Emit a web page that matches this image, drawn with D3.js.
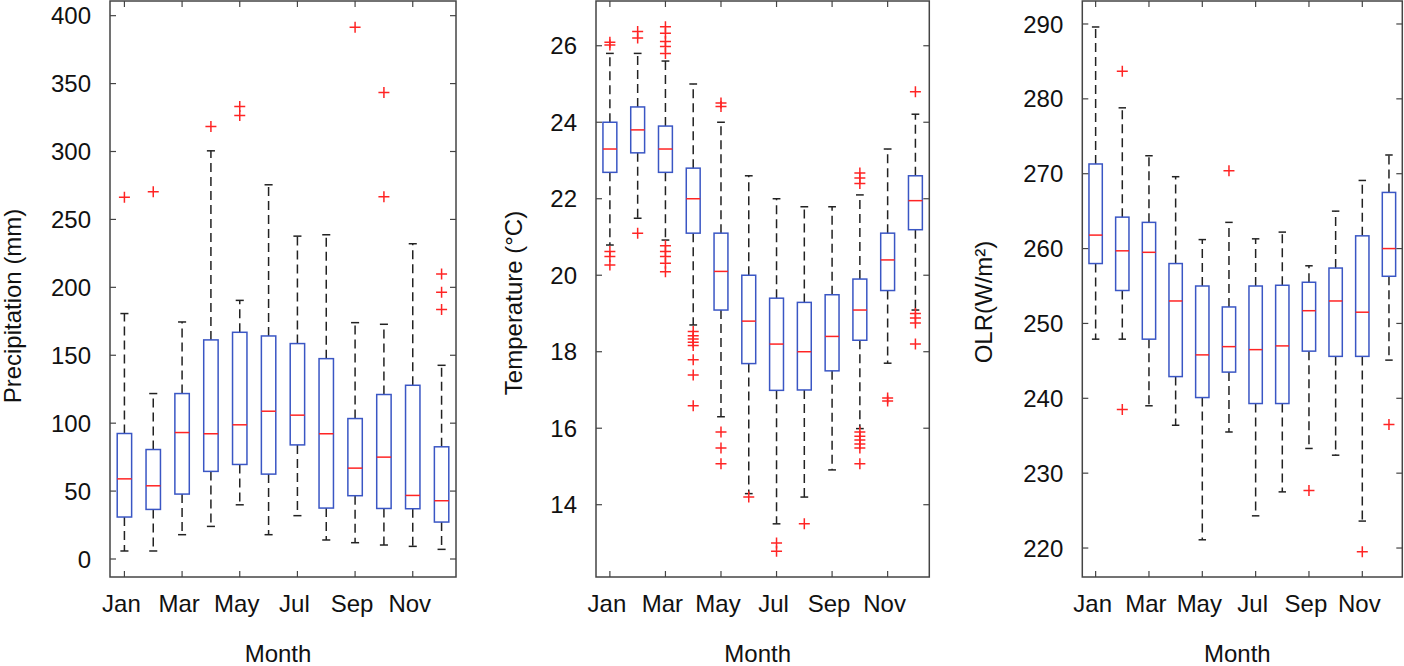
<!DOCTYPE html>
<html>
<head>
<meta charset="utf-8">
<script src="https://cdn.jsdelivr.net/npm/d3@7"></script>
<style>
  body { margin: 0; background: #fff; }
  text { font-family: "Liberation Sans", Arial, Helvetica, sans-serif; fill: #111; }
</style>
</head>
<body>
<svg id="chart" width="1404" height="666"></svg>
<script>
const months = ['Jan', 'Feb', 'Mar', 'Apr', 'May', 'Jun', 'Jul', 'Aug', 'Sep', 'Oct', 'Nov', 'Dec'];
const monthTicks = ['Jan', 'Mar', 'May', 'Jul', 'Sep', 'Nov'];

// precipitation (mm)
const precipLo  = [5.9, 5.9, 17.9, 24.0, 39.9, 17.9, 31.9, 14.0, 12.0, 10.3, 9.3, 7.1];
const precipQ1  = [30.9, 36.5, 47.8, 64.5, 69.6, 62.5, 84.0, 37.5, 46.6, 37.2, 37.0, 27.2];
const precipMed = [59.0, 53.9, 93.1, 92.2, 98.8, 108.8, 105.9, 92.2, 66.9, 75.0, 46.8, 42.9];
const precipQ3  = [92.4, 80.6, 121.8, 161.3, 166.9, 164.2, 158.6, 147.5, 103.4, 121.1, 127.9, 82.6];
const precipHi  = [180.7, 121.8, 174.5, 300.5, 190.4, 275.5, 237.7, 238.7, 174.0, 172.8, 232.1, 142.6];
const precipOut = [[266.4], [270.3], [], [318.4], [333.1, 326.5], [], [], [], [391.4], [343.4, 266.7], [], [209.8, 196.3, 183.6]];
const precipTicks = [0, 50, 100, 150, 200, 250, 300, 350, 400];

// temperature (°C)
const tempLo  = [20.79, 21.49, 20.92, 18.70, 16.30, 14.29, 13.50, 14.20, 14.91, 15.99, 17.70, 19.09];
const tempQ1  = [22.69, 23.20, 22.69, 21.10, 19.09, 17.69, 16.99, 17.00, 17.50, 18.30, 19.60, 21.19];
const tempMed = [23.30, 23.80, 23.30, 22.00, 20.10, 18.80, 18.20, 18.00, 18.40, 19.09, 20.40, 21.95];
const tempQ3  = [24.00, 24.40, 23.90, 22.80, 21.10, 20.00, 19.40, 19.29, 19.49, 19.90, 21.10, 22.60];
const tempHi  = [25.80, 25.80, 25.60, 25.00, 24.00, 22.60, 22.00, 21.79, 21.79, 22.10, 23.30, 24.21];
const tempOut = [
  [26.09, 26.02, 20.62, 20.49, 20.27],
  [26.37, 26.20, 21.10],
  [26.50, 26.33, 26.11, 25.98, 25.80, 20.77, 20.62, 20.49, 20.31, 20.09],
  [18.53, 18.42, 18.33, 18.25, 18.16, 17.79, 17.39, 16.59],
  [24.50, 24.41, 15.90, 15.48, 15.07],
  [14.20],
  [13.00, 12.78],
  [13.50],
  [],
  [22.67, 22.54, 22.40, 15.90, 15.79, 15.69, 15.59, 15.48, 15.07],
  [16.79, 16.71],
  [24.80, 19.00, 18.88, 18.75, 18.20]
];
const tempTicks = [14, 16, 18, 20, 22, 24, 26];

// outgoing longwave radiation (W/m2)
const olrLo  = [247.9, 247.9, 239.0, 236.4, 221.1, 235.5, 224.3, 227.5, 233.3, 232.4, 223.6, 245.1];
const olrQ1  = [258.0, 254.4, 247.9, 242.9, 240.1, 243.5, 239.3, 239.3, 246.3, 245.6, 245.6, 256.3];
const olrMed = [261.8, 259.7, 259.5, 253.0, 245.8, 246.9, 246.5, 247.0, 251.7, 253.0, 251.5, 260.0];
const olrQ3  = [271.3, 264.2, 263.5, 258.0, 255.0, 252.2, 255.0, 255.1, 255.5, 257.4, 261.7, 267.5];
const olrHi  = [289.6, 278.8, 272.4, 269.6, 261.2, 263.5, 261.3, 262.2, 257.7, 265.0, 269.1, 272.5];
const olrOut = [[], [283.7, 238.5], [], [], [], [270.4], [], [], [227.7], [], [219.5], [236.5]];
const olrTicks = [220, 230, 240, 250, 260, 270, 280, 290];

const svg = d3.select('#chart');

const BOX = '#3a56c4';
const RED = '#ff2424';
const FRAME = '#444';
const FS = 24;

function drawPanel(cfg) {
  const { left, right, top, bottom, domain, ticks, lo, q1, med, q3, hi, out, label, labelPos } = cfg;
  const x = d3.scaleLinear().domain([0.5, 12.5]).range([left, right]);
  const y = d3.scaleLinear().domain(domain).range([bottom, top]);
  const g = svg.append('g');
  const stats = months.map((m, i) => ({ i: i + 1, lo: lo[i], q1: q1[i], med: med[i], q3: q3[i], hi: hi[i], out: out[i] }));

  // whiskers
  g.selectAll('.whisk').data(stats).join('g').each(function (d) {
    const s = d3.select(this);
    s.append('line')
      .attr('x1', x(d.i)).attr('x2', x(d.i))
      .attr('y1', y(d.q3)).attr('y2', y(d.hi))
      .attr('stroke', '#222').attr('stroke-width', 1.5).attr('stroke-dasharray', '9,5');
    s.append('line')
      .attr('x1', x(d.i)).attr('x2', x(d.i))
      .attr('y1', y(d.q1)).attr('y2', y(d.lo))
      .attr('stroke', '#222').attr('stroke-width', 1.5).attr('stroke-dasharray', '9,5');
    [d.lo, d.hi].forEach(v => {
      s.append('line')
        .attr('x1', x(d.i - 0.14)).attr('x2', x(d.i + 0.14))
        .attr('y1', y(v)).attr('y2', y(v))
        .attr('stroke', '#222').attr('stroke-width', 1.5);
    });
  });

  // boxes
  g.selectAll('rect.box').data(stats).join('rect')
    .attr('class', 'box')
    .attr('x', d => x(d.i - 0.25))
    .attr('width', d => x(d.i + 0.25) - x(d.i - 0.25))
    .attr('y', d => y(d.q3))
    .attr('height', d => y(d.q1) - y(d.q3))
    .attr('fill', 'none').attr('stroke', BOX).attr('stroke-width', 1.5);

  g.selectAll('line.med').data(stats).join('line')
    .attr('class', 'med')
    .attr('x1', d => x(d.i - 0.25)).attr('x2', d => x(d.i + 0.25))
    .attr('y1', d => y(d.med)).attr('y2', d => y(d.med))
    .attr('stroke', RED).attr('stroke-width', 1.5);

  // outliers
  const pts = stats.flatMap(d => d.out.map(v => ({ i: d.i, v })));
  g.selectAll('path.out').data(pts).join('path')
    .attr('class', 'out')
    .attr('d', d => `M${x(d.i) - 5.5},${y(d.v)}h11M${x(d.i)},${y(d.v) - 5.5}v11`)
    .attr('stroke', RED).attr('stroke-width', 1.5).attr('fill', 'none');

  // frame and ticks
  g.append('rect')
    .attr('x', left).attr('y', top).attr('width', right - left).attr('height', bottom - top)
    .attr('fill', 'none').attr('stroke', FRAME).attr('stroke-width', 1.5);

  const tl = 6;
  ticks.forEach(t => {
    g.append('line').attr('x1', left).attr('x2', left + tl).attr('y1', y(t)).attr('y2', y(t))
      .attr('stroke', FRAME).attr('stroke-width', 1.2);
    g.append('line').attr('x1', right).attr('x2', right - tl).attr('y1', y(t)).attr('y2', y(t))
      .attr('stroke', FRAME).attr('stroke-width', 1.2);
    g.append('text').attr('x', left - 19).attr('y', y(t)).attr('dy', '0.36em')
      .attr('text-anchor', 'end').attr('font-size', FS).text(t);
  });
  monthTicks.forEach(m => {
    const xi = x(months.indexOf(m) + 1);
    g.append('line').attr('x1', xi).attr('x2', xi).attr('y1', bottom).attr('y2', bottom - tl)
      .attr('stroke', FRAME).attr('stroke-width', 1.2);
    g.append('line').attr('x1', xi).attr('x2', xi).attr('y1', top).attr('y2', top + tl)
      .attr('stroke', FRAME).attr('stroke-width', 1.2);
    g.append('text').attr('x', xi - 3).attr('y', 612)
      .attr('text-anchor', 'middle').attr('font-size', FS).text(m);
  });

  g.append('text')
    .attr('x', (left + right) / 2 - 5).attr('y', 662)
    .attr('text-anchor', 'middle').attr('font-size', FS).text('Month');
  g.append('text')
    .attr('transform', `translate(${labelPos[0]},${labelPos[1]}) rotate(-90)`)
    .attr('text-anchor', 'middle').attr('font-size', FS).text(label);
}

drawPanel({
  left: 110, right: 456, top: 1, bottom: 577, domain: [-13.25, 410.8], ticks: precipTicks,
  lo: precipLo, q1: precipQ1, med: precipMed, q3: precipQ3, hi: precipHi, out: precipOut,
  label: 'Precipitation (mm)', labelPos: [21, 306]
});
drawPanel({
  left: 596, right: 929.3, top: 1, bottom: 577, domain: [12.11, 27.17], ticks: tempTicks,
  lo: tempLo, q1: tempQ1, med: tempMed, q3: tempQ3, hi: tempHi, out: tempOut,
  label: 'Temperature (°C)', labelPos: [521.5, 303]
});
drawPanel({
  left: 1082.3, right: 1402.3, top: 1, bottom: 577, domain: [216.13, 293.07], ticks: olrTicks,
  lo: olrLo, q1: olrQ1, med: olrMed, q3: olrQ3, hi: olrHi, out: olrOut,
  label: 'OLR(W/m²)', labelPos: [992, 302]
});
</script>
</body>
</html>
